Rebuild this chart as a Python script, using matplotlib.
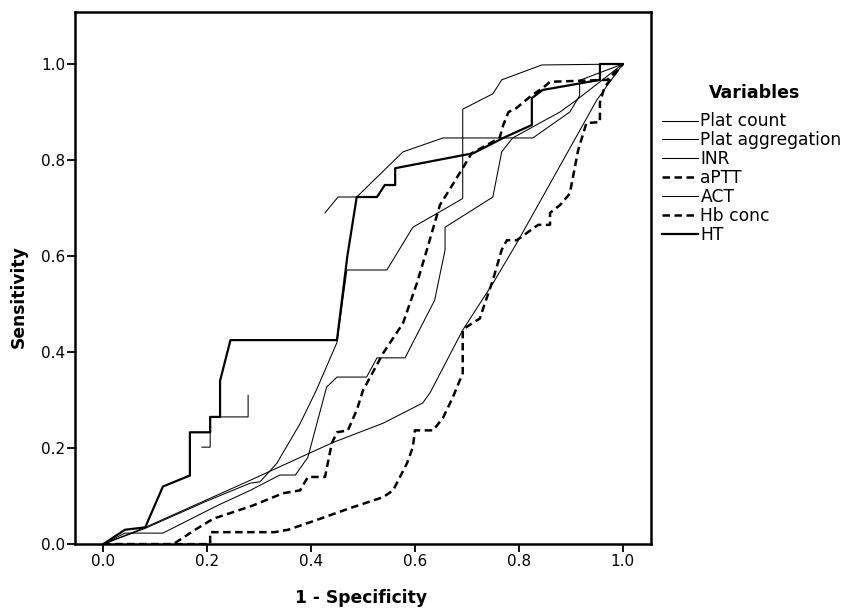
import numpy as np
import matplotlib.pyplot as plt

plt.rcParams['font.family'] = ['DejaVu Sans']

nan = np.nan

# curvas ROC (1 - especificidade, sensibilidade)
plat_count_x = [0, 0.081, 0.2, 0.283, 0.302, 0.334, 0.379, 0.41, 0.45, 0.469, 0.546, 0.596, 0.654, 0.692, 0.692, 0.75, 0.767, 0.844, 1.0]
plat_count_y = [0, 0.033, 0.09, 0.127, 0.13, 0.168, 0.251, 0.32, 0.42, 0.571, 0.571, 0.66, 0.696, 0.72, 0.906, 0.938, 0.967, 0.998, 1.0]

plat_aggr_x = [0.19, 0.206, 0.206, 0.279, 0.279, nan, 0.427, 0.452, 0.488, 0.577, 0.654, 0.827, 0.898, 0.917, 0.917, 1.0]
plat_aggr_y = [0.202, 0.202, 0.265, 0.265, 0.31, nan, 0.69, 0.723, 0.723, 0.817, 0.846, 0.846, 0.90, 0.934, 0.966, 1.0]

inr_x = [0, 0.042, 0.115, 0.221, 0.283, 0.34, 0.37, 0.394, 0.43, 0.45, 0.507, 0.527, 0.581, 0.638, 0.658, 0.658, 0.75, 0.767, 0.788, 0.879, 0.911, 1.0]
inr_y = [0, 0.023, 0.023, 0.081, 0.112, 0.144, 0.144, 0.181, 0.327, 0.348, 0.348, 0.388, 0.388, 0.508, 0.613, 0.66, 0.723, 0.817, 0.846, 0.9, 0.925, 1.0]

aptt_x = [0, 0.135, 0.177, 0.212, 0.287, 0.346, 0.379, 0.394, 0.427, 0.44, 0.45, 0.471, 0.488, 0.5, 0.539, 0.577, 0.604, 0.623, 0.648, 0.692, 0.709, 0.763, 0.77, 0.78, 0.795, 0.825, 0.846, 0.86, 0.97, 1.0]
aptt_y = [0, 0.0, 0.03, 0.053, 0.08, 0.106, 0.112, 0.14, 0.14, 0.21, 0.233, 0.237, 0.279, 0.32, 0.398, 0.46, 0.544, 0.613, 0.706, 0.783, 0.814, 0.846, 0.873, 0.9, 0.908, 0.935, 0.95, 0.963, 0.967, 1.0]

act_x = [0, 0.081, 0.283, 0.398, 0.443, 0.539, 0.615, 0.629, 0.692, 0.75, 0.796, 0.95, 1.0]
act_y = [0, 0.035, 0.133, 0.19, 0.212, 0.252, 0.294, 0.315, 0.446, 0.543, 0.627, 0.925, 1.0]

hb_x = [0, 0.206, 0.206, 0.33, 0.356, 0.41, 0.475, 0.539, 0.558, 0.585, 0.596, 0.6, 0.635, 0.654, 0.673, 0.692, 0.692, 0.696, 0.725, 0.731, 0.75, 0.767, 0.777, 0.796, 0.837, 0.86, 0.86, 0.879, 0.898, 0.914, 0.93, 0.956, 0.956, 0.965, 1.0]
hb_y = [0, 0.0, 0.025, 0.025, 0.03, 0.05, 0.075, 0.098, 0.112, 0.169, 0.202, 0.237, 0.237, 0.263, 0.306, 0.356, 0.446, 0.45, 0.47, 0.49, 0.55, 0.613, 0.633, 0.633, 0.665, 0.665, 0.69, 0.706, 0.73, 0.82, 0.877, 0.879, 0.92, 0.952, 1.0]

ht_x = [0, 0.042, 0.081, 0.115, 0.167, 0.167, 0.206, 0.206, 0.225, 0.225, 0.245, 0.45, 0.47, 0.488, 0.527, 0.542, 0.562, 0.562, 0.692, 0.712, 0.77, 0.825, 0.825, 0.846, 0.956, 0.956, 1.0]
ht_y = [0, 0.03, 0.035, 0.12, 0.143, 0.233, 0.233, 0.265, 0.265, 0.34, 0.425, 0.425, 0.6, 0.723, 0.723, 0.748, 0.748, 0.783, 0.81, 0.814, 0.846, 0.873, 0.929, 0.946, 0.967, 1.0, 1.0]

fig = plt.figure(figsize=(8.53, 6.08), dpi=100)
ax = fig.add_axes([0.088, 0.105, 0.675, 0.875])

thin = 0.75
ax.plot(plat_count_x, plat_count_y, color='black', lw=thin, label='Plat count')
ax.plot(plat_aggr_x, plat_aggr_y, color='black', lw=thin, label='Plat aggregation')
ax.plot(inr_x, inr_y, color='black', lw=thin, label='INR')
ax.plot(aptt_x, aptt_y, color='black', lw=1.8, dashes=(3, 1.8), label='aPTT')
ax.plot(act_x, act_y, color='black', lw=thin, label='ACT')
ax.plot(hb_x, hb_y, color='black', lw=1.8, dashes=(3, 1.8), label='Hb conc')
ax.plot(ht_x, ht_y, color='black', lw=1.6, label='HT')

ax.set_xlim(-0.054, 1.054)
ax.set_ylim(0, 1.108)
ax.set_xticks(np.arange(0, 1.01, 0.2))
ax.set_yticks(np.arange(0, 1.01, 0.2))
ax.xaxis.set_major_formatter(plt.FormatStrFormatter('%.1f'))
ax.yaxis.set_major_formatter(plt.FormatStrFormatter('%.1f'))
ax.tick_params(direction='out', length=5.5, width=1.3, labelsize=11, colors='black', pad=1.5)
for s in ax.spines.values():
    s.set_linewidth(1.8)

ax.set_xlabel('1 - Specificity', fontsize=12.3, fontweight='bold')
ax.set_ylabel('Sensitivity', fontsize=12.3, fontweight='bold')
ax.xaxis.set_label_coords(0.497, -0.084)
ax.yaxis.set_label_coords(-0.082, 0.466)

# titulo da legenda separado, como no SPSS
fig.text(0.885, 0.847, 'Variables', fontsize=12.5, fontweight='bold', ha='center', va='center')
leg = fig.legend(loc='upper left', bbox_to_anchor=(0.776, 0.815), frameon=False,
                 fontsize=12.3, handlelength=2.1, handletextpad=0.15,
                 labelspacing=0.05, borderpad=0, borderaxespad=0)

fig.savefig('out.png', dpi=100)
